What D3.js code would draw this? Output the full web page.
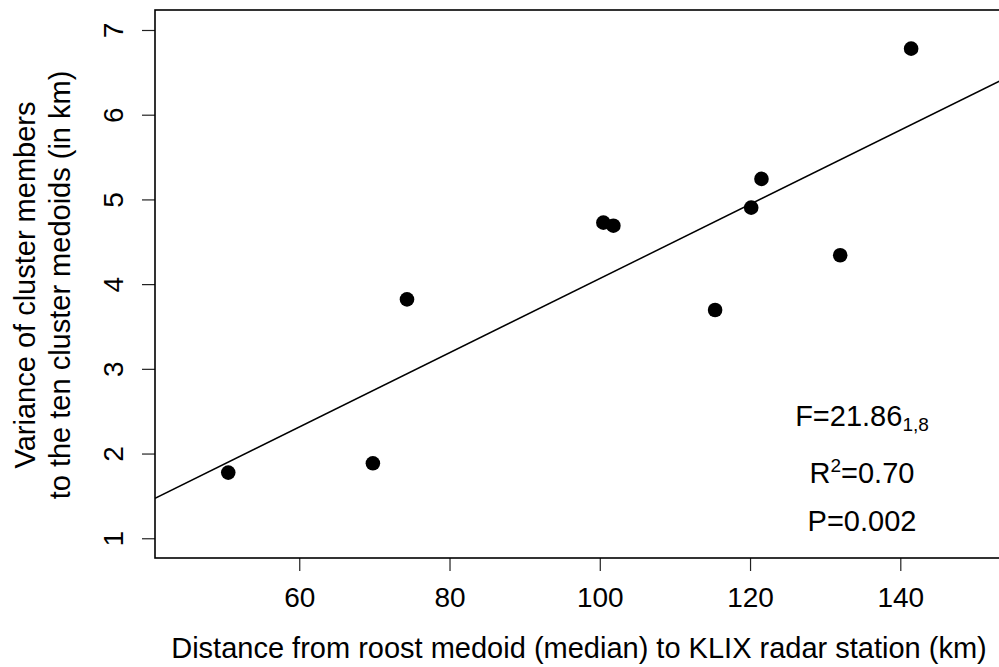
<!DOCTYPE html>
<html>
<head>
<meta charset="utf-8">
<script src="https://cdn.jsdelivr.net/npm/d3@7"></script>
<style>
  body { margin: 0; background: #fff; }
  svg { display: block; }
  text { font-family: "Liberation Sans", Arial, Helvetica, sans-serif; fill: #000; }
</style>
</head>
<body>
<svg id="chart" width="999" height="667"></svg>
<script>
// distance from roost medoid to KLIX (km)
const distance = [50.55, 69.8, 74.34, 100.48, 101.81, 115.35, 120.15, 121.52, 132.0, 141.44]
// variance of cluster members to medoids (km)
const variance = [1.775, 1.885, 3.82, 4.726, 4.69, 3.695, 4.903, 5.242, 4.341, 6.78]

const xTicks = [60, 80, 100, 120, 140]
const yTicks = [1, 2, 3, 4, 5, 6, 7]

const xTitle = 'Distance from roost medoid (median) to KLIX radar station (km)'
const yTitle = ['Variance of cluster members', 'to the ten cluster medoids (in km)']

const stats = {F: '21.86', df: '1,8', R2: '0.70', P: '0.002'}

const margin = {left: 155, top: 10, right: 1000, bottom: 558}
const fsTick = 28
const fsLab = 29

const svg = d3.select('#chart')

let x = d3.scaleLinear().domain([40.8, 153.27]).range([margin.left, margin.right])
let y = d3.scaleLinear().domain([0.767, 7.236]).range([margin.bottom, margin.top])

// least squares fit, drawn like abline()
let mx = d3.mean(distance)
let my = d3.mean(variance)
let sxy = d3.sum(distance, (d, i) => (d - mx) * (variance[i] - my))
let sxx = d3.sum(distance, (d) => (d - mx) * (d - mx))
let slope = sxy / sxx
let icpt = my - slope * mx

svg.append('clipPath').attr('id', 'plotclip')
  .append('rect')
  .attr('x', margin.left).attr('y', margin.top)
  .attr('width', margin.right - margin.left)
  .attr('height', margin.bottom - margin.top)

let xd = x.domain()
svg.append('line')
  .attr('clip-path', 'url(#plotclip)')
  .attr('x1', x(xd[0])).attr('y1', y(icpt + slope * xd[0]))
  .attr('x2', x(xd[1])).attr('y2', y(icpt + slope * xd[1]))
  .attr('stroke', '#000').attr('stroke-width', 1.5)

// points
svg.selectAll('.pt')
  .data(distance)
  .enter()
  .append('circle')
  .attr('class', 'pt')
  .attr('cx', (d) => x(d))
  .attr('cy', (d, i) => y(variance[i]))
  .attr('r', 7.3)
  .attr('fill', '#000')

// axes
let xAxis = d3.axisBottom(x).tickValues(xTicks).tickSize(13).tickPadding(16)
let gx = svg.append('g')
  .attr('transform', `translate(0,${margin.bottom})`)
  .call(xAxis)
gx.select('.domain').remove()
gx.selectAll('text').attr('font-size', fsTick).attr('font-family', '"Liberation Sans", Arial, sans-serif')
gx.selectAll('.tick line').attr('stroke', '#222').attr('stroke-width', 1.2)

let yAxis = d3.axisLeft(y).tickValues(yTicks).tickSize(13).tickFormat(d3.format('d'))
let gy = svg.append('g')
  .attr('transform', `translate(${margin.left},0)`)
  .call(yAxis)
gy.select('.domain').remove()
gy.selectAll('.tick line').attr('stroke', '#222').attr('stroke-width', 1.2)
gy.selectAll('text')
  .attr('font-size', fsTick)
  .attr('font-family', '"Liberation Sans", Arial, sans-serif')
  .attr('x', null).attr('dy', null)
  .attr('text-anchor', 'middle')
  .attr('transform', 'translate(-32,0) rotate(-90)')

// box
svg.append('rect')
  .attr('x', margin.left).attr('y', margin.top)
  .attr('width', margin.right - margin.left)
  .attr('height', margin.bottom - margin.top)
  .attr('fill', 'none').attr('stroke', '#000').attr('stroke-width', 1.6)

// titles
svg.append('text')
  .attr('x', 579)
  .attr('y', 658)
  .attr('text-anchor', 'middle')
  .attr('font-size', fsLab)
  .text(xTitle)

let cy = 285
yTitle.forEach((t, i) => {
  svg.append('text')
    .attr('transform', `translate(${35 + i * 35},${cy}) rotate(-90)`)
    .attr('text-anchor', 'middle')
    .attr('font-size', fsLab)
    .text(t)
})

// stats annotation
let ax = x(134.9)
let t1 = svg.append('text').attr('x', ax).attr('y', y(2.33))
  .attr('text-anchor', 'middle').attr('font-size', fsLab)
t1.append('tspan').text('F=' + stats.F)
t1.append('tspan').attr('font-size', 19).attr('dy', 5).text(stats.df)

let t2 = svg.append('text').attr('x', ax).attr('y', y(1.65))
  .attr('text-anchor', 'middle').attr('font-size', fsLab)
t2.append('tspan').text('R')
t2.append('tspan').attr('font-size', 19).attr('dy', -11).text('2')
t2.append('tspan').attr('dy', 11).text('=' + stats.R2)

svg.append('text').attr('x', ax).attr('y', y(1.08))
  .attr('text-anchor', 'middle').attr('font-size', fsLab)
  .text('P=' + stats.P)
</script>
</body>
</html>
